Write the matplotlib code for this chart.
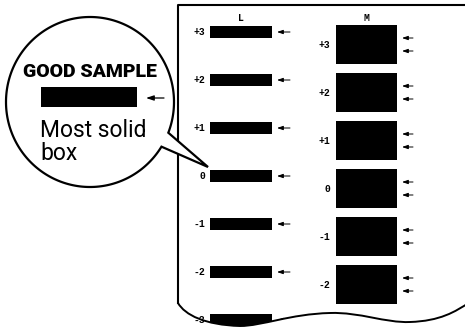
import numpy as np
import matplotlib.pyplot as plt
from matplotlib.path import Path
from matplotlib.patches import PathPatch, Rectangle, Polygon

# Daftar level dan kolom pada kertas contoh
levels = ["+3", "+2", "+1", "0", "-1", "-2", "-3"]
columns = ["L", "M"]
arrows_per_row = [1, 2]

bubble_title = "GOOD SAMPLE"
bubble_lines = ["Most solid", "box"]

# Layout (piksel, sumbu y terbalik)
W, H = 465, 327
row_step = 48
col_x0 = [210, 336]        # tepi kiri kotak
col_w = [62, 61]
col_h = [12, 39]
col_y0 = [32, 44.5]        # pusat baris pertama
arrow_x = [(290, 277), (413, 402)]
label_x = [205, 330]

fig = plt.figure(figsize=(W / 100, H / 100), dpi=100)
ax = fig.add_axes([0, 0, 1, 1])
ax.set_xlim(0, W)
ax.set_ylim(H, 0)
ax.axis("off")

# Kertas: tepi kiri, atas, dan bawah bergelombang
verts = [(178, 303), (178, 5), (470, 5), (470, 302),
         (455, 312), (440, 321), (410, 322),
         (385, 323), (360, 312), (330, 313),
         (290, 314), (262, 326), (240, 326),
         (205, 325), (185, 315), (178, 303)]
codes = [Path.MOVETO, Path.LINETO, Path.LINETO, Path.LINETO] + [Path.CURVE4] * 12
paper = Path(verts, codes)
clip = PathPatch(paper, facecolor="white", edgecolor="none", transform=ax.transData)
ax.add_patch(clip)

ax.add_patch(PathPatch(Path([(470, 302)] + verts[4:16],
                            [Path.MOVETO] + [Path.CURVE4] * 12),
                       facecolor="none", edgecolor="black", lw=1.4, zorder=3))
ax.plot([178, 178, 470], [303, 5, 5], color="black", lw=1.5, zorder=3)

arrow_style = dict(arrowstyle="-|>,head_length=0.35,head_width=0.12",
                   color="black", lw=0.7, shrinkA=0, shrinkB=0)

for c, col in enumerate(columns):
    ax.text(col_x0[c] + col_w[c] / 2, 18, col, family="Liberation Mono",
            fontweight="bold", fontsize=7, ha="center", va="center")
    for i, lev in enumerate(levels):
        yc = col_y0[c] + i * row_step
        if yc > H:
            continue
        r = Rectangle((col_x0[c], yc - col_h[c] / 2), col_w[c], col_h[c],
                      facecolor="black", edgecolor="none", zorder=2)
        ax.add_patch(r)
        r.set_clip_path(clip)
        if yc + 4 < H:
            t = ax.text(label_x[c], yc, lev, family="Liberation Mono",
                        fontweight="bold", fontsize=7, ha="right", va="center")
            t.set_clip_path(clip)
        n = arrows_per_row[c]
        offs = [0] if n == 1 else [-6.5, 6.5]
        for o in offs:
            a = ax.annotate("", xy=(arrow_x[c][1], yc + o),
                            xytext=(arrow_x[c][0], yc + o),
                            arrowprops=arrow_style)
            a.arrow_patch.set_clip_path(clip)

# Gelembung dengan ekor
cx, cy, rx, ry = 90, 102, 84, 85
tA = np.arctan2((133 - cy) / ry, (169 - cx) / rx)
tB = np.arctan2((147 - cy) / ry, (162 - cx) / rx)
t = np.linspace(tB, tA + 2 * np.pi, 300)
pts = np.column_stack([cx + rx * np.cos(t), cy + ry * np.sin(t)])
pts = np.vstack([pts, [[208, 167]]])
ax.add_patch(Polygon(pts, closed=True, facecolor="white", edgecolor="black",
                     lw=1.6, joinstyle="miter", zorder=5))

ax.text(90, 77, bubble_title, family="Roboto",
        fontweight="black", fontsize=14, ha="center", va="baseline", zorder=6)
ax.add_patch(Rectangle((41, 87), 96, 20, facecolor="black", zorder=6))
ax.annotate("", xy=(146, 98), xytext=(164, 98), zorder=6,
            arrowprops=dict(arrowstyle="-|>,head_length=0.45,head_width=0.15",
                            color="black", lw=0.9, shrinkA=0, shrinkB=0))
for k, line in enumerate(bubble_lines):
    ax.text(40, 137 + 23 * k, line, family="Roboto",
            fontsize=16.5, ha="left", va="baseline", zorder=6)

plt.savefig("out.png", dpi=100)
